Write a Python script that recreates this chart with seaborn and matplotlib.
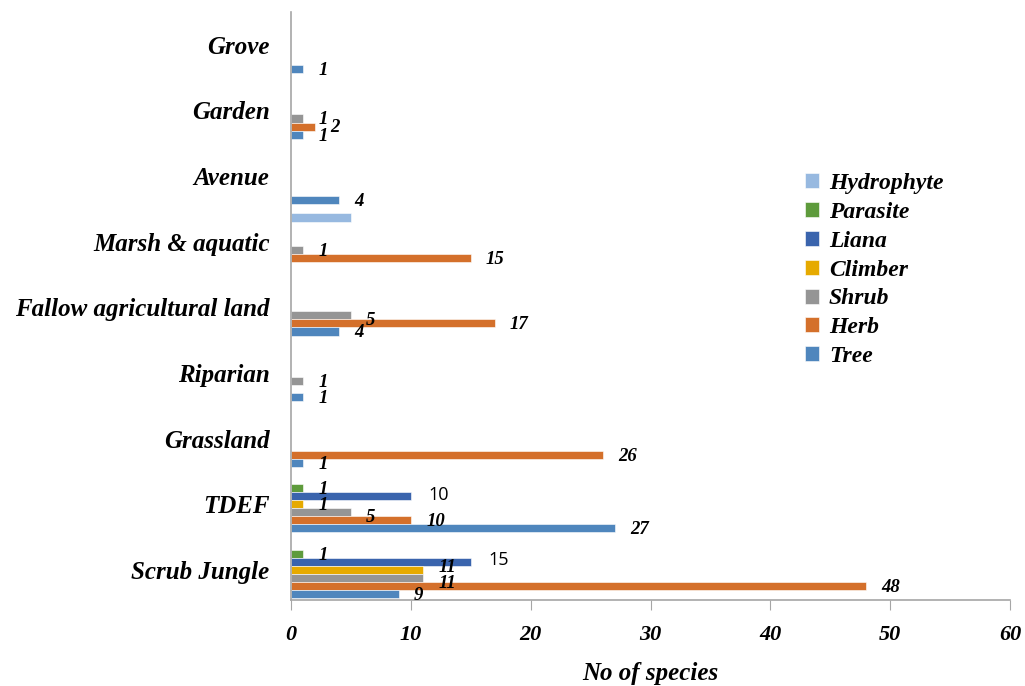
import matplotlib
matplotlib.use("Agg")
import matplotlib.pyplot as plt
import seaborn as sns
import pandas as pd
import numpy as np

habitats = ["Grove", "Garden", "Avenue", "Marsh & aquatic", "Fallow agricultural land",
            "Riparian", "Grassland", "TDEF", "Scrub Jungle"]
tree = [1, 1, 4, 0, 4, 1, 1, 27, 9]
herb = [0, 2, 0, 15, 17, 0, 26, 10, 48]
shrub = [0, 1, 0, 1, 5, 1, 0, 5, 11]
climber = [0, 0, 0, 0, 0, 0, 0, 1, 11]
liana = [0, 0, 0, 0, 0, 0, 0, 10, 15]
parasite = [0, 0, 0, 0, 0, 0, 0, 1, 1]
hydrophyte = [0, 0, 0, 5, 0, 0, 0, 0, 0]

habits = ["Hydrophyte", "Parasite", "Liana", "Climber", "Shrub", "Herb", "Tree"]
series = {"Hydrophyte": hydrophyte, "Parasite": parasite, "Liana": liana,
          "Climber": climber, "Shrub": shrub, "Herb": herb, "Tree": tree}
colors = {"Hydrophyte": "#97B9E0", "Parasite": "#5E9B3C", "Liana": "#3A64AD",
          "Climber": "#E6AA00", "Shrub": "#959595", "Herb": "#D4702B", "Tree": "#4F86BD"}

rows = []
for h in habits:
    for cat, v in zip(habitats, series[h]):
        rows.append({"habitat": cat, "habit": h, "count": v})
df = pd.DataFrame(rows)

sns.set_style("white")
serif = ["Liberation Serif", "DejaVu Serif"]
plt.rcParams["font.family"] = serif
plt.rcParams["text.color"] = "black"
plt.rcParams["xtick.labelcolor"] = "black"
plt.rcParams["ytick.labelcolor"] = "black"
plt.rcParams["axes.labelcolor"] = "black"

fig = plt.figure(figsize=(10.25, 6.86), dpi=100)
ax = fig.add_axes([291/1025, 1-600/686, (1010-291)/1025, (600-12)/686])

sns.barplot(data=df, x="count", y="habitat", hue="habit", order=habitats,
            hue_order=habits, palette=colors, orient="h", width=0.86,
            gap=0.0, ax=ax, legend=True, saturation=1, edgecolor="white", linewidth=0.4)

ax.set_xlim(0, 60)
ax.set_ylim(len(habitats) - 1 + 0.46, -0.5)
ax.set_xticks(range(0, 61, 10))

no_label = {"Hydrophyte"}
nudge = {"Climber": 3, "Shrub": -3}
for h, cont in zip(habits, ax.containers):
    if h in no_label:
        continue
    for bar in cont:
        w = bar.get_width()
        if not w or np.isnan(w):
            continue
        yc = bar.get_y() + bar.get_height() / 2
        if h == "Liana":
            ax.annotate(f"{int(w)}", (w, yc), xytext=(13, 1), textcoords="offset points",
                        ha="left", va="center", fontsize=13, family=["Open Sans", "DejaVu Sans"],
                        color="black")
        else:
            dy = nudge.get(h, 0) if w >= 5 else 0
            ax.annotate(f"{int(w)}", (w, yc), xytext=(11, -1 + dy), textcoords="offset points",
                        ha="left", va="center", fontsize=13.5, fontstyle="italic",
                        fontweight="bold", family=serif, color="black")

for s in ["top", "right"]:
    ax.spines[s].set_visible(False)
for s in ["left", "bottom"]:
    ax.spines[s].set_color("#A6A6A6")
    ax.spines[s].set_linewidth(1.2)

ax.tick_params(axis="y", left=False, pad=12)
ax.tick_params(axis="x", bottom=True, direction="out", length=7, color="#A6A6A6", pad=11)
for lab in ax.get_yticklabels():
    lab.set_fontsize(18)
    lab.set_fontstyle("italic")
    lab.set_fontweight("bold")
for lab in ax.get_xticklabels():
    lab.set_fontsize(16)
    lab.set_fontstyle("italic")
    lab.set_fontweight("bold")

ax.set_ylabel("")
ax.set_xlabel("No of species", fontsize=18, fontstyle="italic", fontweight="bold", labelpad=12)

handles, labels = ax.get_legend_handles_labels()
ax.legend(handles, labels, loc="upper left", bbox_to_anchor=(784/1025, 1-152/686),
          bbox_transform=fig.transFigure, frameon=False,
          prop={"family": serif, "size": 17, "style": "italic", "weight": "bold"},
          handlelength=0.6, handleheight=0.6, handletextpad=0.4, labelspacing=0.33)

fig.savefig("out.png", dpi=100)
